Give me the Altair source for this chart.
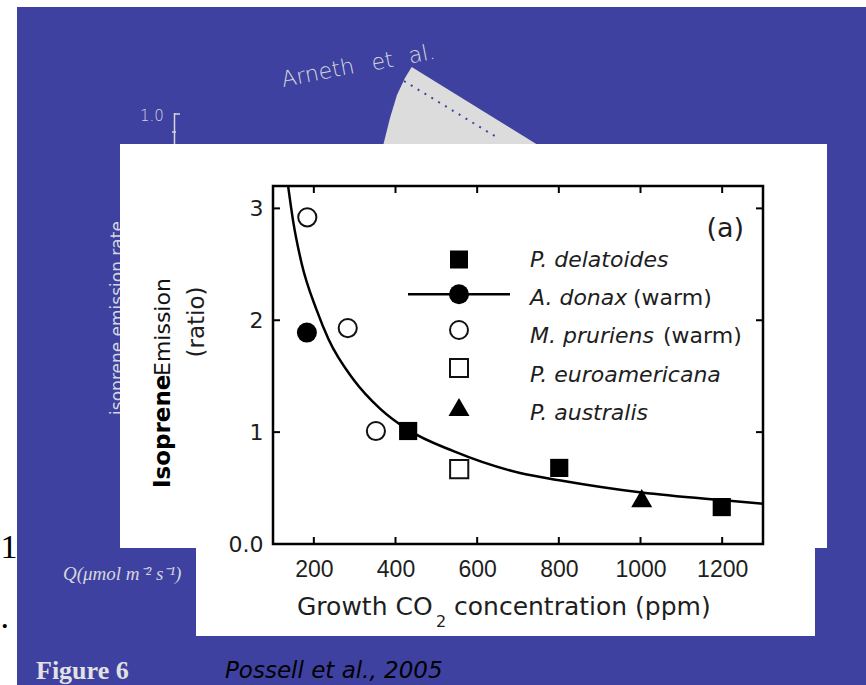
import altair as alt
import pandas as pd

# ---------------- data ----------------
co2_ticks = [200, 400, 600, 800, 1000, 1200]
ratio_ticks = [0, 1, 2, 3]

delatoides_x = [431, 801, 1199]
delatoides_y = [1.01, 0.68, 0.33]
donax_x = [183]
donax_y = [1.89]
pruriens_x = [184, 283, 352]
pruriens_y = [2.92, 1.93, 1.01]
euroamericana_x = [556]
euroamericana_y = [0.67]
australis_x = [1003]
australis_y = [0.41]

fit_x = [137, 150, 170, 207, 236, 297, 362, 431, 542, 705, 801, 1003, 1204, 1300]
fit_y = [3.2, 2.87, 2.51, 2.09, 1.83, 1.47, 1.21, 1.02, 0.83, 0.635, 0.57, 0.46, 0.39, 0.36]

legend_labels = ["P. delatoides", "A. donax", "M. pruriens", "P. euroamericana", "P. australis"]
legend_suffix = ["", "(warm)", "(warm)", "", ""]

# ---------------- layout ----------------
X0, Y0, W, H = 273, 186, 490, 358
CW, CH = 866, 685
BLUE = "#3e41a0"
LIGHT = "#d6d6de"
INK = "#1e1e1e"


def px(x):
    return x - X0


def py(y):
    return y - Y0


one = alt.Data(values=[{"k": 0}])
xs = alt.Scale(domain=[100, 1300], nice=False, zero=False)
ys = alt.Scale(domain=[0, 3.2], nice=False, zero=False)
xaxis = alt.Axis(values=co2_ticks, format="d", labelFont="Liberation Sans", labelFontSize=23,
                 labelColor=INK, ticks=False, tickSize=0, domain=False, grid=False,
                 labelPadding=14, title=None, zindex=1)
yaxis = alt.Axis(values=ratio_ticks, labelExpr="datum.value == 0 ? '0.0' : datum.label",
                 labelFont="DejaVu Sans", labelFontSize=22, labelColor=INK, ticks=False,
                 tickSize=0, domain=False, grid=False, labelPadding=10, title=None, zindex=1)


def X(field="x"):
    return alt.X(f"{field}:Q", scale=xs, axis=xaxis)


def Y(field="y"):
    return alt.Y(f"{field}:Q", scale=ys, axis=yaxis)


def rect(x1, y1, x2, y2, **kw):
    return alt.Chart(one).mark_rect(**kw).encode(
        x=alt.value(px(x1)), x2=alt.value(px(x2)), y=alt.value(py(y1)), y2=alt.value(py(y2)))


def rule(x1, y1, x2, y2, **kw):
    return alt.Chart(one).mark_rule(**kw).encode(
        x=alt.value(px(x1)), x2=alt.value(px(x2)), y=alt.value(py(y1)), y2=alt.value(py(y2)))


def txt(s, x, y, **kw):
    return alt.Chart(one).mark_text(text=s, **kw).encode(x=alt.value(px(x)), y=alt.value(py(y)))


def sym(x, y, **kw):
    return alt.Chart(one).mark_point(opacity=1, **kw).encode(x=alt.value(px(x)), y=alt.value(py(y)))


layers = []

# ---- slide background ----
layers.append(rect(17, 7, CW, CH, color=BLUE))

# underlying (covered) figure by Arneth et al.
tri_path = ("M-0.604,-0.519 L1.075,0.519 L-0.975,0.519 L-0.875,0.119 "
            "L-0.788,-0.169 L-0.688,-0.381 Z")
layers.append(sym(460, 108.5, shape=tri_path, filled=True, size=25600, color="#dcdcdc"))
layers.append(rule(404, 81, 498, 138, color=BLUE, strokeWidth=2, strokeDash=[2, 6]))
for s, x, y in [("Arneth", 283, 87), ("et", 373, 70.5), ("al.", 410, 63.5)]:
    layers.append(txt(s, x, y, angle=349, align="left", baseline="alphabetic",
                      font="DejaVu Sans", fontWeight=200, fontSize=22, color=LIGHT))
layers.append(txt("1.0", 140, 121, align="left", baseline="alphabetic",
                  font="DejaVu Sans", fontWeight=200, fontSize=15, color=LIGHT))
layers.append(rule(174.5, 113, 174.5, 144, color=LIGHT, strokeWidth=1.5))
layers.append(rule(174.5, 114, 180, 114, color=LIGHT, strokeWidth=1.5))
layers.append(rule(172, 132, 176, 132, color=LIGHT, strokeWidth=1.5))
layers.append(txt("isoprene emission rate", 123, 318, angle=270, align="center",
                  baseline="alphabetic", font="DejaVu Sans", fontSize=17, color=LIGHT))
layers.append(txt("Q(\u03bcmol m\u207b\u00b2 s\u207b\u00b9)", 63, 580, align="left",
                  baseline="alphabetic", font="Liberation Serif", fontStyle="italic",
                  fontSize=19, color=LIGHT))

# ---- white pasted panel ----
layers.append(rect(120, 144, 827, 548, color="white"))
layers.append(rect(196, 547, 815, 636, color="white"))

# ---- plot frame and inner ticks ----
layers.append(alt.Chart(one).mark_rect(fillOpacity=0, stroke="black", strokeWidth=2.5).encode(
    x=alt.value(0), x2=alt.value(W), y=alt.value(0), y2=alt.value(H)))
xt = pd.DataFrame({"x": co2_ticks})
yt = pd.DataFrame({"y": ratio_ticks[1:]})
layers.append(alt.Chart(xt).mark_rule(color="black", strokeWidth=2).encode(
    x=X(), y=alt.value(H), y2=alt.value(H - 7)))
layers.append(alt.Chart(xt).mark_rule(color="black", strokeWidth=2).encode(
    x=X(), y=alt.value(0), y2=alt.value(7)))
layers.append(alt.Chart(yt).mark_rule(color="black", strokeWidth=2).encode(
    y=Y(), x=alt.value(0), x2=alt.value(7)))
layers.append(alt.Chart(yt).mark_rule(color="black", strokeWidth=2).encode(
    y=Y(), x=alt.value(W), x2=alt.value(W - 7)))

# ---- fitted curve ----
fit = pd.DataFrame({"x": fit_x, "y": fit_y})
layers.append(alt.Chart(fit).mark_line(color="black", strokeWidth=2.5, interpolate="monotone",
                                       clip=True).encode(x=X(), y=Y()))

# ---- data points ----
def pts(xv, yv, **kw):
    d = pd.DataFrame({"x": xv, "y": yv})
    return alt.Chart(d).mark_point(opacity=1, **kw).encode(x=X(), y=Y())


layers.append(pts(delatoides_x, delatoides_y, shape="square", filled=True, size=330, color="black"))
layers.append(pts(donax_x, donax_y, shape="circle", filled=True, size=400, color="black"))
layers.append(pts(pruriens_x, pruriens_y, shape="circle", fill="white", stroke="#111",
                  strokeWidth=2, size=330))
layers.append(pts(euroamericana_x, euroamericana_y, shape="square", fill="white", stroke="#111",
                  strokeWidth=2, size=330))
layers.append(pts(australis_x, australis_y, shape="triangle-up", filled=True, size=440, color="black"))

# ---- legend ----
leg_sym_y = [259.5, 294.3, 330, 368, 407]
leg_base_y = [267, 305, 343, 382, 420]
leg_suffix_x = [0, 633, 663, 0, 0]
layers.append(rule(408, leg_sym_y[1], 510, leg_sym_y[1], color="black", strokeWidth=2.5))
layers.append(sym(459, leg_sym_y[0], shape="square", filled=True, size=324, color="black"))
layers.append(sym(459, leg_sym_y[1], shape="circle", filled=True, size=400, color="black"))
layers.append(sym(459, leg_sym_y[2], shape="circle", fill="white", stroke="#111", strokeWidth=2, size=324))
layers.append(sym(459, leg_sym_y[3], shape="square", fill="white", stroke="#111", strokeWidth=2, size=324))
layers.append(sym(459, leg_sym_y[4], shape="triangle-up", filled=True, size=440, color="black"))
for i, lab in enumerate(legend_labels):
    layers.append(txt(lab, 530, leg_base_y[i], align="left", baseline="alphabetic",
                      font="DejaVu Sans", fontStyle="italic", fontSize=22, color=INK))
    if legend_suffix[i]:
        layers.append(txt(legend_suffix[i], leg_suffix_x[i], leg_base_y[i], align="left",
                          baseline="alphabetic", font="DejaVu Sans", fontSize=22, color=INK))

layers.append(txt("(a)", 744, 237, align="right", baseline="alphabetic",
                  font="DejaVu Sans", fontSize=27, color=INK))

# ---- axis titles ----
layers.append(txt("Isoprene", 170, 488, angle=270, align="left", baseline="alphabetic",
                  font="DejaVu Sans", fontWeight="bold", fontSize=23, color="black"))
layers.append(txt("Emission", 170, 376, angle=270, align="left", baseline="alphabetic",
                  font="DejaVu Sans", fontSize=22, color="#111"))
layers.append(txt("(ratio)", 204, 322, angle=270, align="center", baseline="alphabetic",
                  font="DejaVu Sans", fontSize=23, color=INK))
layers.append(txt("Growth CO", 297, 615, align="left", baseline="alphabetic",
                  font="DejaVu Sans", fontSize=25, color=INK))
layers.append(txt("2", 436, 627, align="left", baseline="alphabetic",
                  font="DejaVu Sans", fontSize=16, color=INK))
layers.append(txt("concentration (ppm)", 454, 615, align="left", baseline="alphabetic",
                  font="DejaVu Sans", fontSize=25, color=INK))

# ---- slide texts ----
layers.append(txt("Figure 6", 36, 679, align="left", baseline="alphabetic",
                  font="Liberation Serif", fontWeight="bold", fontSize=26, color="#e2e2e2"))
layers.append(txt("Possell et al., 2005", 225, 678, align="left", baseline="alphabetic",
                  font="DejaVu Sans", fontStyle="italic", fontSize=23, color="black"))
layers.append(txt("1", 0.5, 558, align="left", baseline="alphabetic",
                  font="Liberation Serif", fontSize=34, color="black"))
layers.append(txt(".", 0.5, 628, align="left", baseline="alphabetic",
                  font="Liberation Serif", fontSize=34, color="black"))

chart = alt.layer(*layers).properties(
    width=W, height=H,
    autosize=alt.AutoSizeParams(type="none"),
    padding={"left": X0, "top": Y0, "right": CW - X0 - W, "bottom": CH - Y0 - H},
    background="white",
).configure_view(stroke=None)

chart.save("out.html", embed_options={"renderer": "svg", "actions": False})
